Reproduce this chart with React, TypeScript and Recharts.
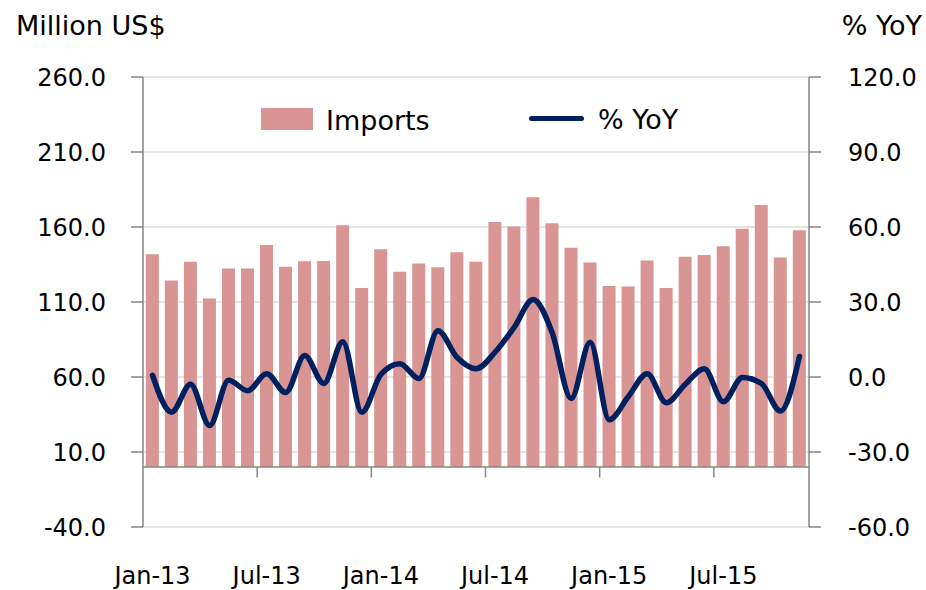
import React from 'react';
import { ComposedChart, Bar, Line, XAxis, YAxis, CartesianGrid, ReferenceLine } from 'recharts';

const categories = [
  'Jan-13','Feb-13','Mar-13','Apr-13','May-13','Jun-13','Jul-13','Aug-13','Sep-13','Oct-13','Nov-13','Dec-13',
  'Jan-14','Feb-14','Mar-14','Apr-14','May-14','Jun-14','Jul-14','Aug-14','Sep-14','Oct-14','Nov-14','Dec-14',
  'Jan-15','Feb-15','Mar-15','Apr-15','May-15','Jun-15','Jul-15','Aug-15','Sep-15','Oct-15','Nov-15',
];

const imports = [
  141.8, 124.4, 136.8, 112.3, 132.3, 132.3, 148.0, 133.5, 137.2, 137.4, 161.2, 119.3,
  145.1, 130.2, 135.6, 133.2, 143.1, 136.8, 163.4, 160.3, 179.9, 162.5, 146.2, 136.3,
  120.6, 120.3, 137.6, 119.3, 140.1, 141.4, 147.1, 158.9, 174.6, 139.6, 157.9,
];

const yoy = [
  0.7, -14.1, -2.9, -19.4, -1.3, -5.5, 1.3, -6.2, 8.6, -2.6, 14.1, -14.1,
  1.0, 5.3, -0.6, 18.5, 7.9, 3.3, 9.9, 19.8, 31.0, 17.8, -8.6, 13.9,
  -17.1, -7.9, 1.3, -10.3, -2.9, 3.3, -9.9, -0.2, -2.6, -13.6, 8.2,
];

const leftTicks = [-40, 10, 60, 110, 160, 210, 260];
const rightTicks = [-60, -30, 0, 30, 60, 90, 120];
const xTickMarks = ['Jul-13', 'Jan-14', 'Jul-14', 'Jan-15', 'Jul-15'];

const data = categories.map((c, i) => ({ month: c, imports: imports[i], yoy: yoy[i] }));

const FONT = '"DejaVu Sans", sans-serif';
const BAR_COLOR = '#D99594';
const LINE_COLOR = '#002060';
const AXIS_COLOR = '#868686';

export default function App() {
  return (
    <div style={{ position: 'absolute', left: 0, top: 0, width: 926, height: 590, background: '#fff', fontFamily: FONT }}>
      <ComposedChart
        width={926}
        height={590}
        data={data}
        margin={{ top: 77, right: 0, bottom: 0, left: 0 }}
        barCategoryGap="15%"
      >
        <CartesianGrid yAxisId="left" vertical={false} stroke="#DCDCDC" strokeWidth={1.5} />
        <XAxis
          dataKey="month"
          xAxisId={0}
          interval={5}
          height={63}
          axisLine={false}
          tickLine={false}
          tickSize={0}
          tickMargin={40}
          tick={{ fontSize: 24, fill: '#000', fontFamily: FONT }}
        />
        <YAxis
          yAxisId="left"
          orientation="left"
          width={143}
          domain={[-40, 260]}
          ticks={leftTicks}
          interval={0}
          allowDataOverflow
          tickFormatter={(v: number) => v.toFixed(1)}
          axisLine={{ stroke: AXIS_COLOR, strokeWidth: 1.5 }}
          tickLine={{ stroke: AXIS_COLOR, strokeWidth: 1.5 }}
          tickSize={12}
          tickMargin={25}
          tick={{ fontSize: 24, fill: '#000', fontFamily: FONT }}
        />
        <YAxis
          yAxisId="right"
          orientation="right"
          width={117}
          domain={[-60, 120]}
          ticks={rightTicks}
          interval={0}
          allowDataOverflow
          tickFormatter={(v: number) => v.toFixed(1)}
          axisLine={{ stroke: AXIS_COLOR, strokeWidth: 1.5 }}
          tickLine={{ stroke: AXIS_COLOR, strokeWidth: 1.5 }}
          tickSize={12}
          tickMargin={27}
          tick={{ fontSize: 24, fill: '#000', fontFamily: FONT }}
        />
        <Bar yAxisId="left" dataKey="imports" fill={BAR_COLOR} isAnimationActive={false} />
        <ReferenceLine yAxisId="left" y={0} stroke={AXIS_COLOR} strokeWidth={1.5} />
        {xTickMarks.map((m) => (
          <ReferenceLine
            key={m}
            yAxisId="left"
            position="start"
            segment={[{ x: m, y: 0 }, { x: m, y: -7 }]}
            stroke={AXIS_COLOR}
            strokeWidth={1.5}
          />
        ))}
        <Line
          yAxisId="right"
          dataKey="yoy"
          type="monotone"
          stroke={LINE_COLOR}
          strokeWidth={5.5}
          strokeLinecap="round"
          strokeLinejoin="round"
          dot={false}
          activeDot={false}
          isAnimationActive={false}
        />
      </ComposedChart>

      <div style={{ position: 'absolute', left: 16, top: 8, fontSize: 27, lineHeight: '36px', color: '#000', whiteSpace: 'nowrap' }}>
        Million US$
      </div>
      <div style={{ position: 'absolute', right: 4, top: 8, fontSize: 27, lineHeight: '36px', color: '#000', whiteSpace: 'nowrap' }}>
        % YoY
      </div>

      <div style={{ position: 'absolute', left: 261, top: 108, width: 52, height: 22, background: BAR_COLOR }} />
      <div style={{ position: 'absolute', left: 326, top: 103, fontSize: 27, lineHeight: '36px', color: '#000', whiteSpace: 'nowrap' }}>
        Imports
      </div>
      <div style={{ position: 'absolute', left: 529, top: 116, width: 55, height: 5, borderRadius: 3, background: LINE_COLOR }} />
      <div style={{ position: 'absolute', left: 598, top: 102, fontSize: 27, lineHeight: '36px', color: '#000', whiteSpace: 'nowrap' }}>
        % YoY
      </div>
    </div>
  );
}
